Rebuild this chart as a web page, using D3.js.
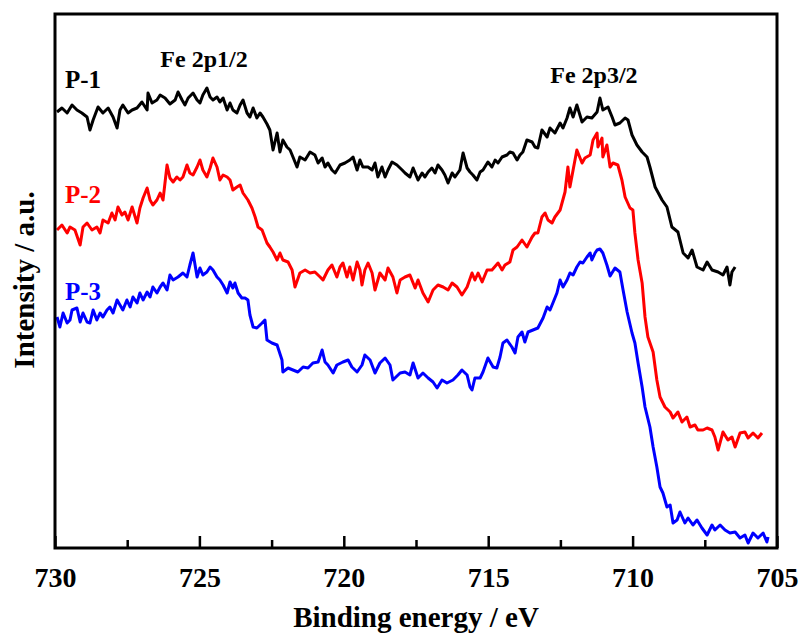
<!DOCTYPE html>
<html>
<head>
<meta charset="utf-8">
<script src="https://cdn.jsdelivr.net/npm/d3@7"></script>
<style>
  body { margin: 0; background: #fff; }
</style>
</head>
<body>
<svg id="chart" width="799" height="633"></svg>
<script>
// Fe 2p XPS spectra, [binding energy (eV), intensity (a.u.)]
const p1 = [
  [729.93,436],[729.76,440],[729.58,435],[729.41,443],[729.24,438],[729.07,435],[728.89,431],[728.79,418],[728.68,428],[728.51,441],
  [728.34,435],[728.16,440],[727.99,431],[727.85,420],[727.75,438],[727.65,443],[727.47,435],[727.33,438],[727.16,440],[726.99,446],
  [726.81,438],[726.78,455],[726.64,445],[726.47,448],[726.36,453],[726.19,450],[726.02,444],[725.84,448],[725.74,456],[725.60,448],
  [725.50,443],[725.39,450],[725.22,455],[725.08,448],[724.98,445],[724.88,453],[724.74,460],[724.63,451],[724.53,448],[724.39,451],
  [724.29,446],[724.18,450],[724.04,438],[723.94,445],[723.84,438],[723.70,435],[723.59,443],[723.49,448],[723.35,435],[723.25,431],
  [723.14,440],[723.01,430],[722.90,435],[722.80,431],[722.66,424],[722.56,418],[722.45,398],[722.31,415],[722.21,396],[722.11,408],
  [721.97,401],[721.86,398],[721.76,391],[721.62,381],[721.52,391],[721.34,388],[721.17,396],[721.00,393],[720.89,385],[720.75,390],
  [720.65,381],[720.55,385],[720.41,378],[720.30,375],[720.13,383],[719.96,385],[719.79,388],[719.68,391],[719.54,378],[719.44,388],
  [719.34,381],[719.16,381],[719.02,378],[718.92,385],[718.82,371],[718.68,381],[718.57,371],[718.47,378],[718.33,386],[718.16,383],
  [717.98,378],[717.88,375],[717.71,371],[717.60,380],[717.43,368],[717.29,375],[717.19,371],[717.08,376],[716.95,380],[716.84,375],
  [716.74,383],[716.60,378],[716.50,373],[716.39,365],[716.25,375],[716.15,371],[715.98,378],[715.87,395],[715.73,380],[715.63,376],
  [715.53,373],[715.39,368],[715.28,376],[715.18,378],[715.01,386],[714.87,381],[714.76,388],[714.66,385],[714.52,391],[714.35,393],
  [714.25,396],[714.14,395],[714.00,388],[713.90,393],[713.80,396],[713.66,408],[713.48,406],[713.38,401],[713.28,400],[713.14,418],
  [712.96,411],[712.86,420],[712.69,415],[712.51,425],[712.41,420],[712.27,430],[712.17,440],[712.06,431],[711.93,443],[711.75,426],
  [711.58,431],[711.41,430],[711.23,436],[711.13,450],[711.03,438],[710.85,441],[710.71,431],[710.61,423],[710.44,425],[710.26,430],
  [710.16,428],[710.02,413],[709.85,403],[709.67,396],[709.50,391],[709.40,381],[709.22,361],[708.98,348],[708.81,341],[708.64,321],
  [708.43,316],[708.25,295],[708.08,290],[707.94,298],[707.77,281],[707.56,278],[707.42,286],[707.25,278],[707.04,276],[706.87,273],
  [706.73,281],[706.63,263],[706.56,276],[706.45,281]
];

const p2 = [
  [729.93,318],[729.76,323],[729.58,315],[729.48,321],[729.31,318],[729.13,303],[729.03,321],[728.89,325],[728.72,318],[728.55,321],
  [728.44,315],[728.34,328],[728.16,325],[728.03,335],[727.92,328],[727.82,341],[727.68,333],[727.58,336],[727.47,328],[727.33,341],
  [727.16,325],[727.06,340],[726.95,350],[726.81,360],[726.71,348],[726.61,343],[726.47,348],[726.36,355],[726.26,348],[726.12,383],
  [726.02,370],[725.91,366],[725.78,371],[725.67,368],[725.57,371],[725.43,383],[725.33,375],[725.22,373],[725.08,381],[724.98,388],
  [724.88,378],[724.74,371],[724.63,380],[724.53,390],[724.39,381],[724.29,368],[724.18,373],[724.04,371],[723.94,368],[723.84,358],
  [723.70,361],[723.59,363],[723.49,355],[723.32,348],[723.18,340],[723.07,331],[722.97,321],[722.83,318],[722.66,305],[722.56,301],
  [722.45,296],[722.31,288],[722.21,295],[722.11,288],[721.93,286],[721.79,278],[721.69,261],[721.52,275],[721.34,278],[721.17,275],
  [721.00,276],[720.82,271],[720.72,268],[720.55,278],[720.41,283],[720.24,271],[720.13,281],[720.03,285],[719.89,271],[719.79,281],
  [719.68,268],[719.54,286],[719.44,278],[719.37,263],[719.27,278],[719.16,285],[719.02,275],[718.92,258],[718.75,275],[718.57,268],
  [718.47,280],[718.30,271],[718.16,255],[718.05,268],[717.88,271],[717.71,273],[717.53,260],[717.43,268],[717.26,255],[717.08,246],
  [716.91,258],[716.74,263],[716.56,261],[716.39,258],[716.25,265],[716.08,261],[715.91,253],[715.73,261],[715.56,275],[715.46,268],
  [715.35,275],[715.21,266],[715.04,278],[714.87,278],[714.66,285],[714.52,278],[714.42,283],[714.25,286],[714.14,298],[714.00,301],
  [713.83,308],[713.66,301],[713.48,311],[713.38,315],[713.28,315],[713.14,331],[713.03,335],[712.93,328],[712.79,325],[712.69,331],
  [712.51,338],[712.34,356],[712.24,381],[712.17,361],[712.06,378],[711.93,398],[711.75,385],[711.65,390],[711.47,393],[711.37,408],
  [711.23,415],[711.20,401],[711.06,410],[711.03,391],[710.89,403],[710.78,381],[710.68,385],[710.51,383],[710.37,368],[710.26,351],
  [710.09,340],[709.99,338],[709.92,315],[709.81,288],[709.67,265],[709.57,231],[709.47,211],[709.29,196],[709.16,168],[709.05,151],
  [708.88,141],[708.70,136],[708.60,130],[708.43,136],[708.29,126],[708.12,131],[708.01,121],[707.84,123],[707.74,118],[707.56,118],
  [707.42,120],[707.25,118],[707.15,111],[707.04,98],[706.87,116],[706.70,108],[706.56,111],[706.45,101],[706.28,115],[706.11,116],
  [706.00,110],[705.83,115],[705.66,110],[705.52,115]
];

const p3 = [
  [729.93,231],[729.83,221],[729.72,235],[729.58,225],[729.48,228],[729.41,238],[729.24,240],[729.13,226],[729.03,235],[728.89,226],
  [728.79,225],[728.68,238],[728.55,228],[728.44,235],[728.34,231],[728.20,238],[728.10,241],[727.99,235],[727.85,248],[727.75,243],
  [727.65,238],[727.51,248],[727.40,241],[727.30,251],[727.16,245],[727.06,255],[726.95,248],[726.81,256],[726.71,251],[726.61,261],
  [726.47,255],[726.36,261],[726.26,265],[726.12,258],[726.02,273],[725.91,268],[725.74,271],[725.57,275],[725.43,271],[725.33,283],
  [725.22,295],[725.08,271],[724.98,280],[724.88,273],[724.74,276],[724.63,281],[724.53,278],[724.39,271],[724.29,268],[724.18,263],
  [724.04,255],[723.94,266],[723.84,260],[723.77,265],[723.66,255],[723.53,250],[723.42,250],[723.32,248],[723.25,233],[723.14,221],
  [723.01,220],[722.83,225],[722.73,228],[722.66,208],[722.49,205],[722.31,203],[722.14,188],[722.11,176],[721.93,180],[721.76,178],
  [721.59,176],[721.41,181],[721.24,180],[721.07,185],[720.89,186],[720.75,198],[720.65,186],[720.55,183],[720.37,175],[720.24,183],
  [720.03,186],[719.85,188],[719.72,181],[719.54,176],[719.37,183],[719.27,193],[719.09,188],[718.92,175],[718.75,185],[718.57,190],
  [718.40,183],[718.30,168],[718.05,175],[717.88,176],[717.71,173],[717.60,185],[717.43,170],[717.26,175],[717.08,170],[716.91,166],
  [716.77,160],[716.60,168],[716.43,165],[716.22,168],[716.05,173],[715.91,178],[715.73,173],[715.63,161],[715.56,158],[715.46,170],
  [715.28,170],[715.18,176],[715.01,190],[714.83,181],[714.70,180],[714.59,191],[714.49,205],[714.35,208],[714.18,201],[714.07,195],
  [713.97,211],[713.83,216],[713.73,206],[713.62,216],[713.45,218],[713.28,220],[713.10,230],[712.96,241],[712.86,238],[712.76,245],
  [712.62,255],[712.51,268],[712.41,261],[712.27,268],[712.17,275],[712.06,273],[711.93,281],[711.82,286],[711.72,285],[711.58,291],
  [711.47,295],[711.41,288],[711.30,295],[711.23,298],[711.13,299],[711.03,295],[710.89,283],[710.78,272],[710.61,280],[710.44,276],
  [710.33,258],[710.19,236],[710.02,215],[709.92,205],[709.81,185],[709.67,161],[709.57,141],[709.40,121],[709.29,101],[709.16,81],
  [709.05,61],[708.95,55],[708.81,41],[708.70,43],[708.60,25],[708.46,28],[708.36,36],[708.19,25],[708.08,30],[707.91,23],
  [707.77,28],[707.60,20],[707.42,13],[707.25,23],[707.15,18],[706.97,23],[706.80,18],[706.63,15],[706.45,16],[706.28,10],
  [706.11,13],[706.00,5],[705.83,15],[705.66,10],[705.48,15],[705.35,6],[705.31,11]
];

const seriesNames = ['P-1', 'P-2', 'P-3'];
const seriesColors = ['#000000', '#ff0000', '#0000ff'];
const majorTicks = [730, 725, 720, 715, 710, 705];
const minorTicks = [727.5, 722.5, 717.5, 712.5, 707.5];
const peakLabels = [
  { text: 'Fe 2p1/2', energy: 724.84, level: 481 },
  { text: 'Fe 2p3/2', energy: 711.34, level: 465 }
];
const seriesLabelLevels = [460, 345, 248];

const serif = '"Liberation Serif", "Times New Roman", Times, "DejaVu Serif", serif';

const margin = { top: 14, right: 22, bottom: 85, left: 55 };
const width = 799 - margin.left - margin.right;
const height = 633 - margin.top - margin.bottom;

const svg = d3.select('#chart')
  .append('g')
  .attr('transform', `translate(${margin.left},${margin.top})`);

const x = d3.scaleLinear().domain([730, 705]).range([0, width]);
const y = d3.scaleLinear().domain([0, 534]).range([height, 0]);

// minor ticks
svg.append('g')
  .attr('transform', `translate(0,${height})`)
  .call(d3.axisBottom(x).tickValues(minorTicks).tickSize(-8).tickFormat(''))
  .call(g => g.select('.domain').remove())
  .selectAll('line').attr('stroke-width', 2.5);

// major ticks + labels
const xAxis = svg.append('g')
  .attr('transform', `translate(0,${height})`)
  .call(d3.axisBottom(x).tickValues(majorTicks).tickSize(-12).tickPadding(19).tickFormat(d3.format('d')))
  .call(g => g.select('.domain').remove());
xAxis.selectAll('line').attr('stroke-width', 2.5);
xAxis.selectAll('text')
  .attr('font-family', null)
  .style('font-family', serif)
  .style('font-weight', 'bold')
  .style('font-size', '28px')
  .attr('fill', '#000');

// lines
const line = d3.line()
  .x(d => x(d[0]))
  .y(d => y(d[1]));

[p1, p2, p3].forEach((data, i) => {
  svg.append('path')
    .datum(data)
    .attr('fill', 'none')
    .attr('stroke', seriesColors[i])
    .attr('stroke-width', 3)
    .attr('stroke-linejoin', 'round')
    .attr('d', line);
});

// frame
svg.append('rect')
  .attr('width', width)
  .attr('height', height)
  .attr('fill', 'none')
  .attr('stroke', '#000')
  .attr('stroke-width', 3);

function label(sel) {
  return sel.style('font-family', serif).style('font-weight', 'bold');
}

// series labels
seriesNames.forEach((name, i) => {
  svg.append('text')
    .attr('x', 10)
    .attr('y', y(seriesLabelLevels[i]))
    .attr('fill', seriesColors[i])
    .call(label)
    .style('font-size', '25px')
    .text(name);
});

// peak labels
peakLabels.forEach(p => {
  svg.append('text')
    .attr('x', x(p.energy))
    .attr('y', y(p.level))
    .attr('text-anchor', 'middle')
    .call(label)
    .style('font-size', '24px')
    .text(p.text);
});

// axis titles
svg.append('text')
  .attr('x', width / 2)
  .attr('y', height + 79)
  .attr('text-anchor', 'middle')
  .call(label)
  .style('font-size', '29px')
  .text('Binding energy / eV');

svg.append('text')
  .attr('transform', 'rotate(-90)')
  .attr('x', -(280 - margin.top))
  .attr('y', -21)
  .attr('text-anchor', 'middle')
  .call(label)
  .style('font-size', '29px')
  .text('Intensity / a.u.');
</script>
</body>
</html>
